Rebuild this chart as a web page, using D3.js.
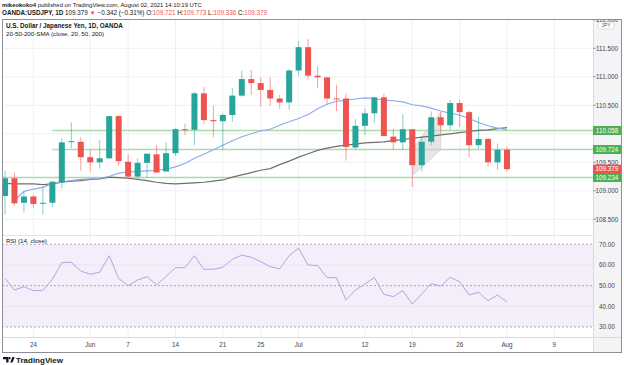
<!DOCTYPE html>
<html>
<head>
<meta charset="utf-8">
<script src="https://cdn.jsdelivr.net/npm/d3@7"></script>
<style>
body { margin: 0; background: #fff; }
text { font-family: "Liberation Sans", Arial, sans-serif; }
</style>
</head>
<body>
<div id="chart"></div>
<script>
// barras diarias USDJPY (19 may - 2 ago 2021)
const days = ["May 19","May 20","May 21","May 24","May 25","May 26","May 27","May 28","May 31",
  "Jun 1","Jun 2","Jun 3","Jun 4","Jun 7","Jun 8","Jun 9","Jun 10","Jun 11","Jun 14","Jun 15","Jun 16","Jun 17","Jun 18",
  "Jun 21","Jun 22","Jun 23","Jun 24","Jun 25","Jun 28","Jun 29","Jun 30",
  "Jul 1","Jul 2","Jul 5","Jul 6","Jul 7","Jul 8","Jul 9","Jul 12","Jul 13","Jul 14","Jul 15","Jul 16",
  "Jul 19","Jul 20","Jul 21","Jul 22","Jul 23","Jul 26","Jul 27","Jul 28","Jul 29","Jul 30","Aug 2"]

const opens = [108.91,109.22,108.79,108.90,108.78,108.79,109.15,109.86,109.86,109.59,109.50,109.57,110.31,109.51,109.25,109.49,109.64,109.34,
  109.66,110.08,110.07,110.71,110.24,110.22,110.33,110.67,110.96,110.89,110.77,110.62,110.55,111.11,111.52,111.02,110.99,110.62,
  110.62,109.76,110.14,110.36,110.64,109.95,109.85,110.08,109.45,109.86,110.29,110.15,110.54,110.38,109.80,109.91,109.50,109.721]
const highs = [109.35,109.32,108.99,108.93,109.07,109.17,109.92,110.20,109.94,109.72,109.89,110.31,110.33,109.64,109.57,109.66,109.80,109.85,
  110.10,110.18,110.73,110.82,110.49,110.36,110.80,111.11,111.12,110.99,110.99,110.68,111.13,111.63,111.66,111.19,110.99,110.86,
  110.71,110.26,110.44,110.65,110.70,110.08,110.34,110.08,109.95,110.39,110.38,110.59,110.59,110.40,110.30,109.93,109.83,109.773]
const lows = [108.58,108.74,108.62,108.70,108.58,108.72,109.04,109.75,109.35,109.34,109.39,109.56,109.44,109.21,109.22,109.23,109.32,109.33,
  109.62,109.98,109.80,110.17,109.94,109.72,110.21,110.65,110.68,110.48,110.49,110.44,110.42,111.02,110.95,110.80,110.52,110.40,
  109.53,109.73,109.98,110.20,109.96,109.72,109.72,109.07,109.34,109.80,110.01,110.07,110.12,109.59,109.74,109.42,109.37,109.336]
const closes = [109.22,108.78,108.90,108.77,108.79,109.16,109.85,109.87,109.59,109.50,109.57,110.31,109.52,109.25,109.49,109.65,109.32,109.66,
  110.08,110.07,110.71,110.24,110.22,110.33,110.67,110.96,110.89,110.77,110.62,110.55,111.11,111.52,111.02,110.99,110.62,110.61,
  109.77,110.14,110.36,110.64,109.96,109.85,110.08,109.45,109.86,110.29,110.15,110.54,110.38,109.80,109.91,109.50,109.72,109.379]

// medias moviles (20 y 50)
const sma20 = [null,108.83,108.99,109.03,109.06,109.13,109.16,109.18,109.20,109.21,109.22,109.25,109.31,109.33,109.34,109.35,109.36,109.38,
  109.42,109.48,109.57,109.64,109.72,109.80,109.88,109.95,110.00,110.05,110.08,110.15,110.21,110.27,110.34,110.44,110.52,110.57,
  110.59,110.61,110.63,110.62,110.59,110.58,110.56,110.51,110.49,110.45,110.40,110.36,110.33,110.27,110.20,110.14,110.10,110.07]
const sma50 = [109.13,109.12,109.12,109.12,109.11,109.12,109.15,109.17,109.18,109.20,109.21,109.24,109.23,109.22,109.20,109.18,109.15,109.13,
  109.12,109.13,109.14,109.15,109.17,109.19,109.24,109.28,109.32,109.36,109.39,109.46,109.52,109.59,109.65,109.71,109.75,109.78,
  109.80,109.82,109.84,109.85,109.86,109.88,109.90,109.92,109.94,109.96,109.98,110.00,110.02,110.04,110.06,110.07,110.09,110.11]

const rsi = [53.5,47.9,49.5,47.6,47.7,53.1,61.1,61.3,57.1,55.5,56.5,64.5,53.5,50.0,52.7,54.4,50.3,54.4,
  58.7,58.7,64.5,57.9,57.9,58.9,62.7,64.8,63.7,61.6,59.2,58.1,64.5,68.1,60.0,59.7,53.9,53.9,
  43.1,47.9,50.8,53.9,45.8,44.7,47.6,41.1,46.0,51.0,49.8,54.0,51.9,45.5,46.8,42.7,45.5,42.1]

// lineas horizontales dibujadas
const levels = [110.058, 109.724, 109.234]
const levelFrom = [5, 5, null]

const priceTicks = [108.5, 109, 109.5, 110, 110.5, 111, 111.5, 112]
const rsiTicks = [70, 60, 50, 40, 30]
const xTickIdx = [3, 9, 13, 18, 23, 27, 31, 38, 43, 48, 53, 58]
const xTickLabels = ["24", "Jun", "7", "14", "21", "25", "Jul", "12", "19", "26", "Aug", "9"]

// zona sombreada (indice de barra, precio)
const shade = [[43.1, 109.75], [46, 110.38], [46, 109.72], [43.1, 109.28]]

const green = "#26a69a", red = "#ef5350"

const svg = d3.select("div#chart").append("svg")
    .attr("width", 624)
    .attr("height", 365)

const L = 2, R = 593, RR = 622, T = 19, mainB = 235, rsiT = 236, rsiB = 337, B = 353

const x = d3.scaleLinear().domain([0, 53]).range([5, 507])
const y = d3.scaleLinear().domain([108.5, 111.5]).range([219.3, 48.3])
const yR = d3.scaleLinear().domain([30, 70]).range([327, 244.3])

svg.append("defs").append("clipPath").attr("id", "mainClip")
    .append("rect").attr("x", L).attr("y", T).attr("width", R - L).attr("height", mainB - T)
svg.select("defs").append("clipPath").attr("id", "rsiClip")
    .append("rect").attr("x", L).attr("y", rsiT).attr("width", R - L).attr("height", rsiB - rsiT)

// fondo del eje de precios
svg.append("rect").attr("x", R).attr("y", T).attr("width", RR - R).attr("height", B - T).attr("fill", "#f4f4f7")

// rejilla
const grid = svg.append("g")
grid.selectAll("line.v").data(xTickIdx).join("line")
    .attr("x1", d => x(d)).attr("x2", d => x(d)).attr("y1", T).attr("y2", rsiB)
    .attr("stroke", "#f0f1f5")
grid.selectAll("line.h").data(priceTicks.filter(p => p < 112)).join("line").attr("class", "h")
    .attr("x1", L).attr("x2", R).attr("y1", d => y(d)).attr("y2", d => y(d))
    .attr("stroke", "#f0f1f5")

// panel RSI
const rsiG = svg.append("g").attr("clip-path", "url(#rsiClip)")
rsiG.append("rect").attr("x", L).attr("y", yR(70)).attr("width", R - L).attr("height", yR(30) - yR(70))
    .attr("fill", "#f3eefa")
rsiG.selectAll("line.g").data([60, 40]).join("line")
    .attr("x1", L).attr("x2", R).attr("y1", d => yR(d)).attr("y2", d => yR(d))
    .attr("stroke", "#e9e3f4")
rsiG.selectAll("line.d").data([70, 50, 30]).join("line").attr("class", "d")
    .attr("x1", L).attr("x2", R).attr("y1", d => yR(d)).attr("y2", d => yR(d))
    .attr("stroke", "#a9a9b0").attr("stroke-dasharray", "2,2")
rsiG.append("path").datum(rsi)
    .attr("d", d3.line().x((d, i) => x(i)).y(d => yR(d)))
    .attr("fill", "none").attr("stroke", "#b6a3e0").attr("stroke-width", 1)

// panel principal
const main = svg.append("g").attr("clip-path", "url(#mainClip)")

main.selectAll("line.level").data(levels).join("line").attr("class", "level")
    .attr("x1", (d, i) => levelFrom[i] === null ? L : x(levelFrom[i])).attr("x2", R)
    .attr("y1", d => y(d)).attr("y2", d => y(d))
    .attr("stroke", "#8fce92").attr("stroke-opacity", 0.75).attr("stroke-width", 1.5)

main.append("polygon")
    .attr("points", shade.map(p => [x(p[0]), y(p[1])].join(",")).join(" "))
    .attr("fill", "#cfcfd2").attr("fill-opacity", 0.55).attr("stroke", "#c4c4c8").attr("stroke-width", 0.6)

const lineFor = d3.line().defined(d => d !== null).x((d, i) => x(i)).y(d => y(d))
main.append("path").datum(sma50).attr("d", lineFor)
    .attr("fill", "none").attr("stroke", "#6f6f6f").attr("stroke-width", 1.2)
main.append("path").datum(sma20).attr("d", lineFor)
    .attr("fill", "none").attr("stroke", "#8fa8f2").attr("stroke-width", 1.1)

const candles = main.selectAll("g.candle").data(days).join("g").attr("class", "candle")
candles.append("line")
    .attr("x1", (d, i) => x(i)).attr("x2", (d, i) => x(i))
    .attr("y1", (d, i) => y(highs[i])).attr("y2", (d, i) => y(lows[i]))
    .attr("stroke", (d, i) => closes[i] >= opens[i] ? green : red)
    .attr("stroke-opacity", 0.55)
candles.append("rect")
    .attr("x", (d, i) => x(i) - 3).attr("width", 6)
    .attr("y", (d, i) => y(Math.max(opens[i], closes[i])))
    .attr("height", (d, i) => Math.max(1, Math.abs(y(opens[i]) - y(closes[i]))))
    .attr("fill", (d, i) => closes[i] >= opens[i] ? green : red)

// separadores y marco
svg.append("line").attr("x1", L).attr("x2", R).attr("y1", mainB + 0.5).attr("y2", mainB + 0.5).attr("stroke", "#e3e4ea")
svg.append("line").attr("x1", L).attr("x2", RR).attr("y1", rsiB + 0.5).attr("y2", rsiB + 0.5).attr("stroke", "#d9dae0")
svg.append("line").attr("x1", R + 0.5).attr("x2", R + 0.5).attr("y1", T).attr("y2", B).attr("stroke", "#d9dae0")
svg.append("rect").attr("x", L + 0.5).attr("y", T + 0.5).attr("width", RR - L - 1).attr("height", B - T - 1)
    .attr("fill", "none").attr("stroke", "#8e9099")

// etiquetas de niveles y precio actual
const tags = levels.map(v => ({ v: v, c: "#4caf50" }))
tags.push({ v: closes[closes.length - 1], c: red })

// eje de precios (las marcas tapadas por una etiqueta no se escriben)
svg.select("defs").append("clipPath").attr("id", "axisClip")
    .append("rect").attr("x", R).attr("y", T + 1).attr("width", RR - R).attr("height", mainB - T)
const axisG = svg.append("g").attr("clip-path", "url(#axisClip)")
const freeTicks = priceTicks.filter(p => tags.every(t => Math.abs(y(p) - y(t.v)) > 6))
axisG.selectAll("line").data(priceTicks).join("line")
    .attr("x1", R).attr("x2", R + 3).attr("y1", d => y(d)).attr("y2", d => y(d)).attr("stroke", "#9a9ca4")
axisG.selectAll("text").data(freeTicks).join("text")
    .attr("x", 607).attr("y", d => y(d) + 2.2)
    .attr("text-anchor", "middle").attr("font-size", 6.3).attr("fill", "#444")
    .text(d => d.toFixed(3))

// etiqueta JPY
axisG.append("rect").attr("x", 598).attr("y", 22).attr("width", 16).attr("height", 7).attr("rx", 2)
    .attr("fill", "#fff").attr("stroke", "#c8c9cf").attr("stroke-width", 0.6)
axisG.append("text").attr("x", 606).attr("y", 27.3).attr("text-anchor", "middle")
    .attr("font-size", 5).attr("fill", "#555").text("JPY")

const tagG = svg.selectAll("g.tag").data(tags).join("g").attr("class", "tag")
tagG.append("rect").attr("x", R).attr("y", d => y(d.v) - 4.5).attr("width", RR - R - 1).attr("height", 9)
    .attr("fill", d => d.c)
tagG.append("text").attr("x", 607).attr("y", d => y(d.v) + 2.2)
    .attr("text-anchor", "middle").attr("font-size", 6.3).attr("fill", "#fff")
    .text(d => d.v.toFixed(3))

// eje RSI
svg.selectAll("text.rsiTick").data(rsiTicks).join("text").attr("class", "rsiTick")
    .attr("x", 607).attr("y", d => yR(d) + 2.2)
    .attr("text-anchor", "middle").attr("font-size", 6.3).attr("fill", "#444")
    .text(d => d.toFixed(2))

// eje temporal
svg.selectAll("text.xTick").data(xTickLabels).join("text").attr("class", "xTick")
    .attr("x", (d, i) => x(xTickIdx[i])).attr("y", 347)
    .attr("text-anchor", "middle").attr("font-size", 6.3).attr("fill", "#444")
    .text(d => d)

// textos de cabecera
const h1 = svg.append("text").attr("x", 2).attr("y", 7).attr("font-size", 5.9).attr("fill", "#131722")
h1.append("tspan").attr("font-weight", "bold").text("mikeokoko4")
h1.append("tspan").text(" published on TradingView.com, August 02, 2021 14:10:19 UTC")

const h2 = svg.append("text").attr("x", 2).attr("y", 15).attr("font-size", 6.3).attr("fill", "#131722")
h2.append("tspan").attr("font-weight", "bold").text("OANDA:USDJPY, 1D")
h2.append("tspan").text("  109.379 ")
h2.append("tspan").attr("fill", red).text("▼")
h2.append("tspan").text(" −0.342 (−0.31%) O:")
h2.append("tspan").attr("fill", red).text("109.721")
h2.append("tspan").text(" H:")
h2.append("tspan").attr("fill", red).text("109.773")
h2.append("tspan").text(" L:")
h2.append("tspan").attr("fill", red).text("109.336")
h2.append("tspan").text(" C:")
h2.append("tspan").attr("fill", red).text("109.379")

svg.append("text").attr("x", 6).attr("y", 28).attr("font-size", 6.3).attr("font-weight", "bold")
    .attr("fill", "#131722").text("U.S. Dollar / Japanese Yen, 1D, OANDA")
svg.append("text").attr("x", 6).attr("y", 36).attr("font-size", 6.2)
    .attr("fill", "#131722").text("20-50-200-SMA (close, 20, 50, 200)")
svg.append("text").attr("x", 6).attr("y", 242.5).attr("font-size", 6.2)
    .attr("fill", "#131722").text("RSI (14, close)")

// logo TradingView
const logo = svg.append("g").attr("fill", "#131722")
logo.append("path").attr("d", "M3,357 h5.5 v5.5 h-2.3 v-3.2 h-3.2 z")
logo.append("circle").attr("cx", 9.6).attr("cy", 358.2).attr("r", 1.1)
logo.append("path").attr("d", "M10.2,362.5 l2.2,-5.5 h2.3 l-2.2,5.5 z")
svg.append("text").attr("x", 16).attr("y", 362.6).attr("font-size", 8).attr("font-weight", "bold")
    .attr("fill", "#131722").text("TradingView")
</script>
</body>
</html>
